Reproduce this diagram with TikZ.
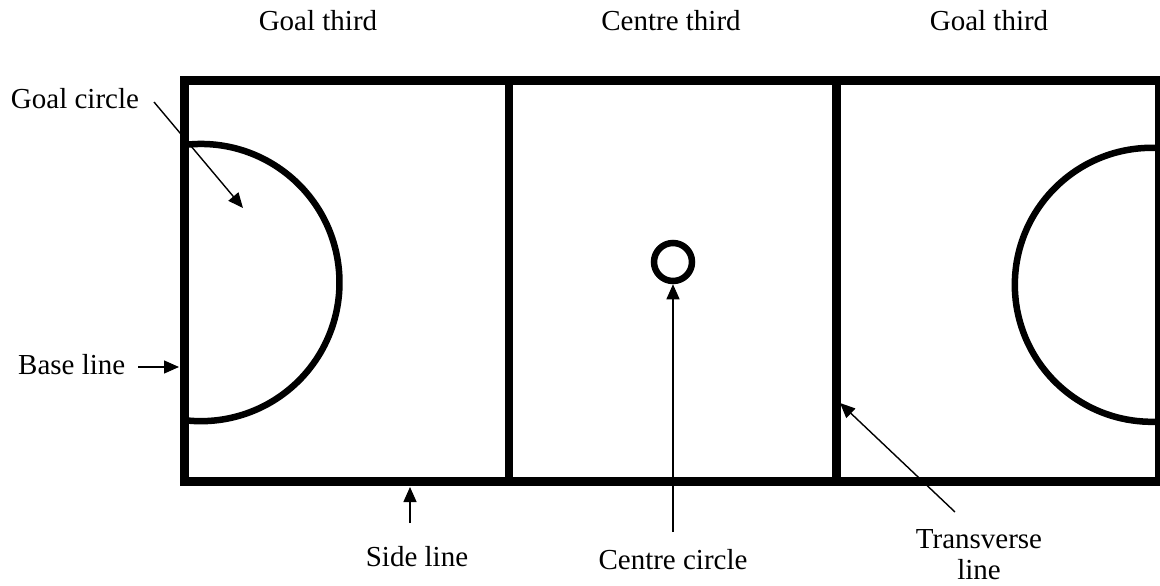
\documentclass[tikz,border=0pt]{standalone}
\usepackage{fontspec}
\setmainfont{Liberation Serif}
\usetikzlibrary{arrows.meta}
\begin{document}
\begin{tikzpicture}[x=1pt,y=-1pt,
  court/.style={line width=8.5pt},
  goalarc/.style={line width=6.5pt},
  lbl/.style={font=\fontsize{29}{31}\selectfont, inner sep=0pt, anchor=base},
  arr/.style={line width=1.4pt, -{Triangle[length=15pt,width=13pt]}}]
\useasboundingbox (0,0) rectangle (1160,586);
\fill[white] (0,0) rectangle (1160,586);
% court
\coordinate (NW) at (184.5,80.5);
\coordinate (SE) at (1159,481.5);
\draw[court] (NW) rectangle (SE);
\coordinate (t1top) at (509,80.5);
\coordinate (t1bot) at (509,481.5);
\coordinate (t2top) at (836.5,80.5);
\coordinate (t2bot) at (836.5,481.5);
\draw[court] (t1top) -- (t1bot);
\draw[court] (t2top) -- (t2bot);
% goal circles
\draw[goalarc] (184,145) arc[start angle=-97, end angle=97, radius=138.6];
\draw[goalarc] (1159,148) arc[start angle=-87, end angle=-273, radius=137];
% centre circle
\node[draw, circle, line width=6.5pt, minimum size=38pt, inner sep=0pt] (cc) at (673,262) {};
% headings
\node[lbl] (h1) at (318,31) {Goal third};
\node[lbl] (h2) at (671,31) {Centre third};
\node[lbl] (h3) at (989,31) {Goal third};
% labels
\node[lbl] (gcl) at (75,108) {Goal circle};
\node[lbl, anchor=base west] (bll) at (18,374) {Base line};
\node[lbl] (sll) at (417,566) {Side line};
\node[lbl] (ccl) at (673,569) {Centre circle};
\node[lbl, anchor=north, align=center] (tvl) at (979,529) {Transverse\\line};
% arrows
\coordinate (gctail) at (154,102);
\coordinate (gctip) at (243,208);
\draw[arr] (gctail) -- (gctip);
\coordinate (bltail) at (138,367);
\coordinate (bltip) at (179,367);
\draw[arr] (bltail) -- (bltip);
\coordinate (sltail) at (410,523);
\coordinate (sltip) at (410,487);
\draw[arr] (sltail) -- (sltip);
\coordinate (cctail) at (673,532);
\draw[arr] (cctail) -- (cc.south);
\coordinate (tvtail) at (955,512);
\coordinate (tvtip) at (840,403);
\draw[arr] (tvtail) -- (tvtip);
\end{tikzpicture}
\end{document}
